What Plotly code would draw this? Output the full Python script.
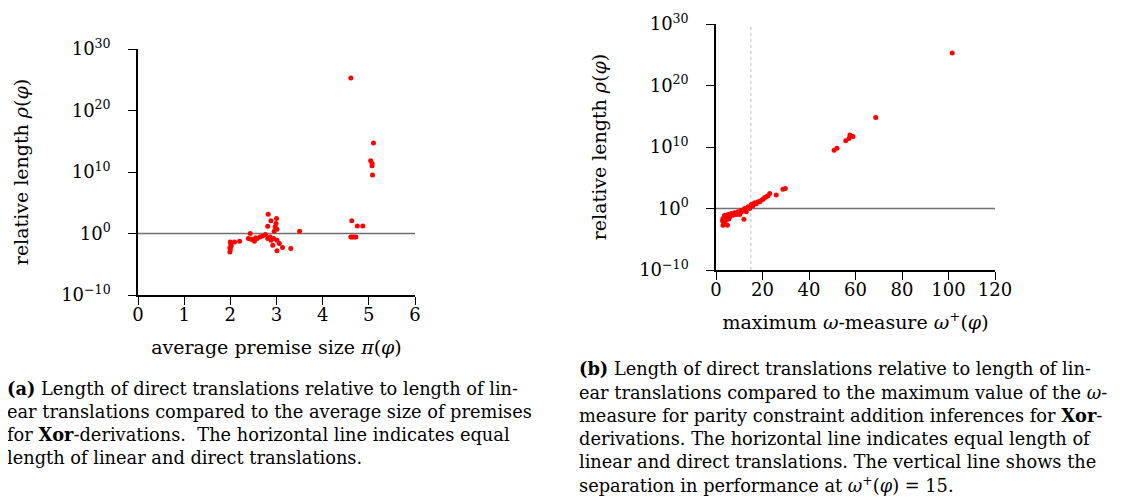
import plotly.graph_objects as go

# ---- data: panel (a) average premise size vs relative length ----
pi_vals = [2.82, 2.88, 3.00, 2.99, 2.81, 2.97, 3.01, 2.95, 3.50, 2.43,
           2.39, 2.48, 2.58, 2.64, 2.52, 2.76, 2.81, 2.86, 2.88, 2.94,
           3.01, 3.06, 2.92, 3.01, 3.13, 3.31, 2.00, 2.01, 2.02, 1.99,
           2.00, 1.99, 2.09, 2.20, 5.10, 5.04, 5.07, 5.07, 5.08, 4.63,
           4.75, 4.87, 4.61, 4.64, 4.68, 4.72, 4.61, 2.70, 2.55, 2.45]
rho_a = [1.4e3, 1.15e2, 2.8e2, 4.3e1, 1.5e1, 1.2e1, 5.0e0, 2.3e0, 2.3e0, 1.0e0,
         1.6e-1, 1.05e-1, 1.6e-1, 2.8e-1, 5.6e-2, 7.0e-1, 1.6e-1, 2.8e-1, 8.0e-2, 1.6e-1,
         8.0e-2, 2.3e-2, 1.25e-2, 1.5e-3, 5.2e-3, 3.5e-3, 4.3e-2, 2.0e-2, 1.0e-2, 5.0e-3,
         2.5e-3, 1.0e-3, 4.3e-2, 5.6e-2, 5.0e14, 7.0e11, 2.5e11, 1.0e11, 3.2e9, 1.15e2,
         1.7e1, 1.7e1, 2.8e-1, 2.8e-1, 2.8e-1, 2.8e-1, 2.0e25, 4.0e-1, 2.0e-1, 1.2e-1]

# ---- data: panel (b) maximum omega-measure vs relative length ----
omega_vals = [29.8, 28.8, 25.9, 23.1, 22.4, 20.9, 19.5, 18.1, 16.6, 15.2,
              13.8, 12.3, 10.9, 9.5, 8.0, 6.6, 5.2, 3.7, 3.0, 3.4,
              3.0, 4.9, 12.0, 10.2, 13.0, 4.4, 5.9, 7.3, 8.7, 14.5,
              15.9, 17.3, 18.8, 20.2, 21.6, 101.6, 68.7, 57.6, 58.9, 57.2,
              55.8, 52.0, 50.8, 4.0, 6.0, 9.0, 11.0, 3.5, 2.8, 5.5]
rho_b = [1.8e3, 1.4e3, 1.5e2, 2.8e2, 1.2e2, 5.5e1, 2.2e1, 1.2e1, 8.5e0, 4.5e0,
         1.9e0, 1.0e0, 5.4e-1, 2.9e-1, 2.0e-1, 1.5e-1, 1.05e-1, 8.1e-2, 2.3e-2, 6.8e-3,
         1.9e-3, 1.9e-3, 1.8e-2, 1.05e-1, 2.9e-1, 1.25e-2, 4.4e-2, 8.1e-2, 1.05e-1, 1.0e0,
         2.8e0, 5.9e0, 1.2e1, 3.3e1, 7.9e1, 2.0e25, 6.3e14, 9.1e11, 5.0e11, 2.5e11,
         1.0e11, 6.3e9, 2.9e9, 3.0e-2, 5.0e-2, 1.5e-1, 3.0e-1, 5.0e-3, 1.0e-2, 2.0e-2]

# ---- tick labels ----
y_tick_vals = [1e-10, 1e0, 1e10, 1e20, 1e30]
y_tick_text = ["10<sup>−10</sup>", "10<sup>0</sup>", "10<sup>10</sup>",
               "10<sup>20</sup>", "10<sup>30</sup>"]

EQUAL_LENGTH = 1.0
OMEGA_SPLIT = 15
X_RANGE_A = [0, 6]
X_RANGE_B = [0, 120]
LOG_Y_RANGE = [-10, 30]

# ---- captions ----
cap_a_lines = [
    "<b>(a)</b> Length of direct translations relative to length of lin-",
    "ear translations compared to the average size of premises",
    "for <b>Xor</b>-derivations.  The horizontal line indicates equal",
    "length of linear and direct translations.",
]
cap_b_lines = [
    "<b>(b)</b> Length of direct translations relative to length of lin-",
    "ear translations compared to the maximum value of the <i>ω</i>-",
    "measure for parity constraint addition inferences for <b>Xor</b>-",
    "derivations. The horizontal line indicates equal length of",
    "linear and direct translations. The vertical line shows the",
    "separation in performance at <i>ω</i><sup>+</sup>(<i>φ</i>) = 15.",
]

FONT = "DejaVu Serif"
RED = "#ff0000"

fig = go.Figure()

# reference lines
fig.add_trace(go.Scatter(x=X_RANGE_A, y=[EQUAL_LENGTH, EQUAL_LENGTH], mode="lines",
                         line=dict(color="#707070", width=1.5), xaxis="x", yaxis="y",
                         showlegend=False, hoverinfo="skip"))
fig.add_trace(go.Scatter(x=X_RANGE_B, y=[EQUAL_LENGTH, EQUAL_LENGTH], mode="lines",
                         line=dict(color="#707070", width=1.5), xaxis="x2", yaxis="y2",
                         showlegend=False, hoverinfo="skip"))
fig.add_trace(go.Scatter(x=[OMEGA_SPLIT, OMEGA_SPLIT],
                         y=[10.0 ** LOG_Y_RANGE[0], 10.0 ** LOG_Y_RANGE[1]], mode="lines",
                         line=dict(color="#c0c0c0", width=1, dash="dot"), xaxis="x2", yaxis="y2",
                         showlegend=False, hoverinfo="skip"))

# scatter points
fig.add_trace(go.Scatter(x=pi_vals, y=rho_a, mode="markers",
                         marker=dict(color=RED, size=5), xaxis="x", yaxis="y",
                         showlegend=False))
fig.add_trace(go.Scatter(x=omega_vals, y=rho_b, mode="markers",
                         marker=dict(color=RED, size=5), xaxis="x2", yaxis="y2",
                         showlegend=False))

W, H = 1126, 501
def px_x(a, b):
    return [a / W, b / W]
def px_y(top, bottom):
    return [1 - bottom / H, 1 - top / H]

axis_common = dict(showline=True, linecolor="black", linewidth=1.5, ticks="outside",
                   ticklen=8, tickwidth=1.2, tickcolor="black", showgrid=False,
                   zeroline=False, tickfont=dict(family=FONT, size=18, color="black"),
                   automargin=False)
title_font = dict(family=FONT, size=19, color="black")

fig.update_layout(
    width=W, height=H,
    margin=dict(l=0, r=0, t=0, b=0),
    paper_bgcolor="white", plot_bgcolor="white",
    font=dict(family=FONT, size=18, color="black"),
    xaxis=dict(domain=px_x(130, 407), range=X_RANGE_A, dtick=1, anchor="y",
               ticklabelstandoff=-5,
               title=dict(text="average premise size <i>π</i>(<i>φ</i>)",
                          font=title_font, standoff=16),
               **axis_common),
    yaxis=dict(domain=px_y(41, 287), type="log", range=LOG_Y_RANGE,
               tickvals=y_tick_vals, ticktext=y_tick_text, anchor="x",
               ticklabelstandoff=14,
               title=dict(text="relative length <i>ρ</i>(<i>φ</i>)",
                          font=title_font, standoff=28),
               **axis_common),
    xaxis2=dict(domain=px_x(708, 987), range=X_RANGE_B, dtick=20, anchor="y2",
                ticklabelstandoff=-5,
                title=dict(text="maximum <i>ω</i>-measure <i>ω</i><sup>+</sup>(<i>φ</i>)",
                           font=title_font, standoff=16),
                **axis_common),
    yaxis2=dict(domain=px_y(16, 262), type="log", range=LOG_Y_RANGE,
                tickvals=y_tick_vals, ticktext=y_tick_text, anchor="x2",
                ticklabelstandoff=14,
                title=dict(text="relative length <i>ρ</i>(<i>φ</i>)",
                           font=title_font, standoff=28),
                **axis_common),
)

cap_font = dict(family=FONT, size=17.8, color="black")
cap_a_y = [380, 403, 426, 449]
cap_b_y = [360, 384, 407, 430, 453, 476]
for txt, yc in zip(cap_a_lines, cap_a_y):
    fig.add_annotation(text=txt, xref="paper", yref="paper", x=-2 / W, y=1 - yc / H,
                       xanchor="left", yanchor="middle", align="left", showarrow=False,
                       font=cap_font, borderpad=0)
for txt, yc in zip(cap_b_lines, cap_b_y):
    fig.add_annotation(text=txt, xref="paper", yref="paper", x=570 / W, y=1 - yc / H,
                       xanchor="left", yanchor="middle", align="left", showarrow=False,
                       font=cap_font, borderpad=0)

fig.write_html("out.html")
